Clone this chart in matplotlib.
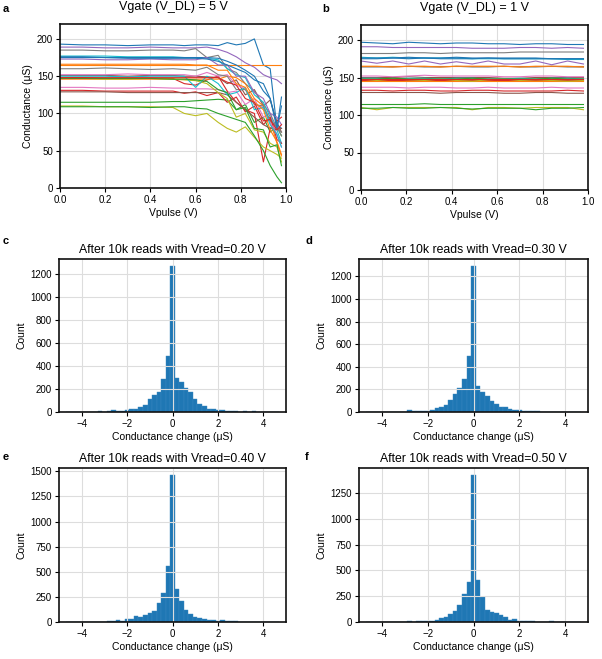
import numpy as np
import matplotlib
matplotlib.use('Agg')
import matplotlib.pyplot as plt

plt.rcParams['font.family'] = ['Liberation Sans', 'DejaVu Sans']

# ---- panel a / b : conductance vs Vpulse ----
xa = [0, 0.1, 0.2, 0.3, 0.4, 0.5, 0.55, 0.6, 0.65, 0.7, 0.74, 0.78, 0.82, 0.86, 0.9, 0.93, 0.96, 0.98]
ga = [
    [193, 192, 192, 191, 192, 192, 191, 192, 192, 191, 195, 192, 194, 200, 165, 160, 80, 122],
    [165, 165, 165, 165, 165, 165, 165, 165, 165, 165, 165, 165, 165, 165, 165, 165, 165, 165],
    [115, 115, 115, 115, 115, 116, 116, 117, 118, 119, 118, 105, 112, 88, 95, 75, 82, 70],
    [148, 148, 147, 147, 147, 147, 140, 138, 145, 150, 130, 115, 105, 100, 35, 80, 90, 95],
    [189, 189, 188, 188, 189, 188, 188, 188, 189, 186, 182, 176, 168, 162, 152, 148, 145, 140],
    [151, 151, 151, 150, 151, 151, 150, 150, 149, 148, 140, 145, 125, 132, 110, 118, 88, 75],
    [135, 135, 134, 134, 135, 134, 134, 133, 133, 132, 128, 130, 112, 120, 95, 100, 70, 60],
    [185, 185, 184, 184, 185, 185, 184, 187, 175, 178, 160, 155, 140, 130, 112, 100, 80, 75],
    [110, 110, 109, 109, 109, 108, 100, 97, 100, 88, 80, 75, 82, 68, 55, 50, 45, 40],
    [177, 177, 177, 176, 176, 176, 175, 175, 174, 172, 160, 152, 148, 125, 115, 95, 78, 60],
    [176, 176, 175, 175, 175, 175, 175, 175, 175, 174, 170, 165, 158, 150, 130, 120, 85, 80],
    [146, 146, 146, 146, 146, 146, 146, 146, 146, 146, 150, 148, 140, 120, 110, 90, 60, 43],
    [109, 109, 109, 109, 108, 109, 109, 107, 106, 100, 96, 92, 88, 70, 50, 30, 15, 7],
    [131, 131, 130, 130, 130, 130, 127, 129, 124, 128, 115, 122, 102, 110, 85, 95, 65, 60],
    [173, 173, 172, 172, 173, 172, 172, 172, 175, 165, 165, 150, 150, 128, 120, 100, 95, 85],
    [129, 129, 129, 128, 128, 128, 128, 128, 128, 128, 125, 115, 105, 95, 85, 80, 78, 80],
    [152, 152, 152, 153, 152, 152, 152, 150, 155, 150, 152, 138, 133, 112, 108, 88, 72, 55],
    [160, 160, 161, 160, 159, 160, 159, 158, 162, 152, 150, 132, 132, 112, 110, 90, 82, 70],
    [147, 147, 146, 146, 147, 146, 145, 144, 140, 128, 120, 95, 100, 78, 75, 60, 55, 35],
    [150, 150, 150, 149, 150, 150, 150, 135, 150, 140, 125, 128, 135, 105, 108, 85, 72, 55],
    [175, 175, 175, 174, 174, 174, 174, 174, 173, 170, 165, 160, 155, 145, 140, 120, 80, 110],
    [166, 166, 166, 166, 166, 166, 166, 165, 165, 158, 158, 140, 135, 115, 105, 78, 62, 45],
    [147, 147, 147, 147, 147, 146, 146, 145, 143, 132, 128, 105, 108, 80, 78, 55, 58, 30],
    [148, 148, 148, 148, 148, 148, 148, 148, 148, 148, 142, 138, 120, 115, 90, 92, 78, 85],
]

xb = [0, 0.07, 0.14, 0.21, 0.28, 0.35, 0.42, 0.49, 0.56, 0.63, 0.7, 0.77, 0.84, 0.91, 0.98]
gb = [
    [197, 196, 195, 197, 196, 195, 196, 196, 195, 195, 194, 195, 195, 194, 194],
    [165, 165, 165, 165, 165, 165, 165, 165, 165, 165, 165, 165, 165, 165, 165],
    [114, 114, 114, 114, 115, 114, 114, 114, 114, 114, 114, 114, 114, 114, 114],
    [147, 147, 147, 147, 147, 147, 147, 147, 147, 147, 147, 147, 147, 147, 147],
    [191, 191, 190, 190, 190, 190, 190, 189, 189, 189, 190, 190, 189, 190, 189],
    [150, 150, 150, 151, 150, 150, 150, 150, 150, 149, 149, 150, 150, 150, 150],
    [137, 137, 137, 136, 137, 137, 136, 136, 137, 136, 136, 136, 137, 136, 136],
    [182, 182, 182, 183, 183, 182, 183, 183, 183, 183, 184, 184, 184, 184, 184],
    [110, 107, 110, 110, 110, 110, 110, 107, 110, 110, 109, 110, 110, 110, 107],
    [177, 176, 177, 176, 176, 176, 176, 175, 175, 175, 175, 175, 175, 174, 174],
    [175, 175, 176, 175, 176, 175, 175, 175, 176, 175, 175, 175, 175, 175, 175],
    [146, 146, 146, 146, 146, 146, 146, 146, 146, 146, 146, 146, 146, 146, 146],
    [109, 109, 110, 109, 109, 110, 109, 108, 109, 109, 109, 107, 109, 109, 110],
    [133, 133, 132, 133, 133, 132, 132, 133, 133, 132, 132, 132, 132, 133, 132],
    [172, 169, 172, 168, 172, 168, 171, 168, 172, 168, 168, 172, 167, 172, 168],
    [130, 130, 130, 130, 130, 129, 130, 130, 130, 129, 129, 130, 130, 129, 129],
    [152, 152, 151, 152, 153, 152, 152, 152, 152, 151, 151, 152, 152, 151, 151],
    [164, 164, 164, 165, 164, 164, 165, 164, 164, 165, 164, 164, 165, 164, 164],
    [148, 146, 148, 147, 146, 148, 146, 145, 147, 148, 146, 147, 146, 145, 146],
    [149, 149, 148, 149, 149, 148, 149, 149, 148, 148, 149, 148, 149, 149, 148],
    [176, 176, 176, 177, 176, 176, 177, 176, 176, 176, 176, 176, 175, 175, 175],
    [165, 165, 164, 165, 165, 164, 165, 165, 165, 165, 164, 165, 165, 165, 164],
    [148, 148, 149, 148, 148, 148, 148, 149, 148, 148, 148, 148, 149, 148, 148],
    [148, 148, 148, 148, 148, 148, 148, 148, 148, 148, 148, 148, 148, 148, 148],
]

# ---- panel c-f : histograms of conductance change (bin width 0.2 uS) ----
centers = [round(-4.6 + 0.2 * k, 1) for k in range(47)]
count_c = [3, 2, 3, 3, 2, 4, 4, 5, 4, 5, 15, 6, 8, 20, 22, 25, 40, 65, 110, 150, 170, 290, 490,
           1270,
           300, 265, 210, 170, 110, 70, 50, 30, 25, 20, 15, 8, 6, 5, 4, 6, 3, 8, 3, 2, 3, 2, 2]
count_d = [1, 2, 2, 2, 3, 2, 3, 3, 4, 14, 5, 6, 8, 12, 18, 36, 42, 66, 110, 161, 215, 293, 495,
           1290,
           233, 176, 140, 101, 72, 42, 48, 30, 21, 15, 12, 12, 8, 5, 4, 3, 3, 4, 3, 2, 3, 2, 2]
count_e = [0, 0, 1, 1, 1, 2, 2, 3, 4, 12, 12, 17, 10, 25, 33, 60, 47, 67, 93, 113, 187, 290, 557,
           1460,
           327, 207, 120, 80, 47, 37, 27, 20, 17, 13, 15, 6, 5, 8, 4, 2, 1, 1, 1, 0, 1, 0, 0]
count_f = [0, 0, 0, 0, 1, 1, 1, 2, 3, 12, 4, 5, 6, 7, 13, 20, 39, 52, 78, 104, 169, 274, 390,
           1420,
           404, 241, 120, 98, 91, 65, 52, 20, 26, 13, 10, 10, 5, 3, 3, 4, 5, 2, 1, 1, 1, 0, 0]
vreads = ['0.20', '0.30', '0.40', '0.50']

colors = plt.rcParams['axes.prop_cycle'].by_key()['color']

W, H = 602, 659
fig = plt.figure(figsize=(W / 100, H / 100), dpi=100)


def box(l, t, r, b):
    # pixel box -> figure fraction
    return [l / W, 1 - b / H, (r - l) / W, (b - t) / H]


def style(ax):
    ax.grid(True, color='#dddddd', linewidth=0.8)
    for s in ax.spines.values():
        s.set_linewidth(1.2)
        s.set_color('#111111')
    ax.tick_params(labelsize=7, length=3, width=0.8, pad=2)


ax_a = fig.add_axes(box(60, 24, 286, 188))
ax_b = fig.add_axes(box(361, 25, 588, 190))
for ax, xs, ys, vg in [(ax_a, xa, ga, '5'), (ax_b, xb, gb, '1')]:
    for i, y in enumerate(ys):
        ax.plot(xs, y, color=colors[i % 10], linewidth=0.8)
    ax.set_xlim(0, 1)
    ax.set_ylim(0, 220)
    ax.set_xticks([0, 0.2, 0.4, 0.6, 0.8, 1.0])
    ax.set_yticks([0, 50, 100, 150, 200])
    ax.set_title('Vgate (V_DL) = ' + vg + ' V', fontsize=9, pad=10)
    ax.set_xlabel('Vpulse (V)', fontsize=7.5, labelpad=2)
    ax.set_ylabel('Conductance (\u03bcS)', fontsize=7.5, labelpad=3)
    style(ax)

edges = np.linspace(-4.7, 4.7, 48)
hist_boxes = [(59, 259, 286, 412), (359, 259, 588, 412),
              (59, 468, 286, 622), (359, 468, 588, 622)]
hist_counts = [count_c, count_d, count_e, count_f]
yticks = [range(0, 1201, 200), range(0, 1201, 200), range(0, 1501, 250), range(0, 1251, 250)]
for bx, cnt, vr, yt in zip(hist_boxes, hist_counts, vreads, yticks):
    ax = fig.add_axes(box(*bx))
    ax.hist(centers, bins=edges, weights=cnt, color='#1f77b4',
            edgecolor='#3a87c0', linewidth=0.3)
    ax.set_xlim(-5, 5)
    ax.set_xticks([-4, -2, 0, 2, 4])
    ax.set_yticks(list(yt))
    ax.set_title('After 10k reads with Vread=' + vr + ' V', fontsize=8.8, pad=4)
    ax.set_xlabel('Conductance change (\u03bcS)', fontsize=7.5, labelpad=2)
    ax.set_ylabel('Count', fontsize=7.5, labelpad=3)
    style(ax)

# panel letters
for lab, x, y in [('a', 3, 4), ('b', 322, 4), ('c', 3, 236), ('d', 305, 236),
                  ('e', 3, 452), ('f', 305, 452)]:
    fig.text(x / W, 1 - y / H, lab, fontsize=8, fontweight='bold', va='top', ha='left')

fig.savefig('out.png', dpi=100)
